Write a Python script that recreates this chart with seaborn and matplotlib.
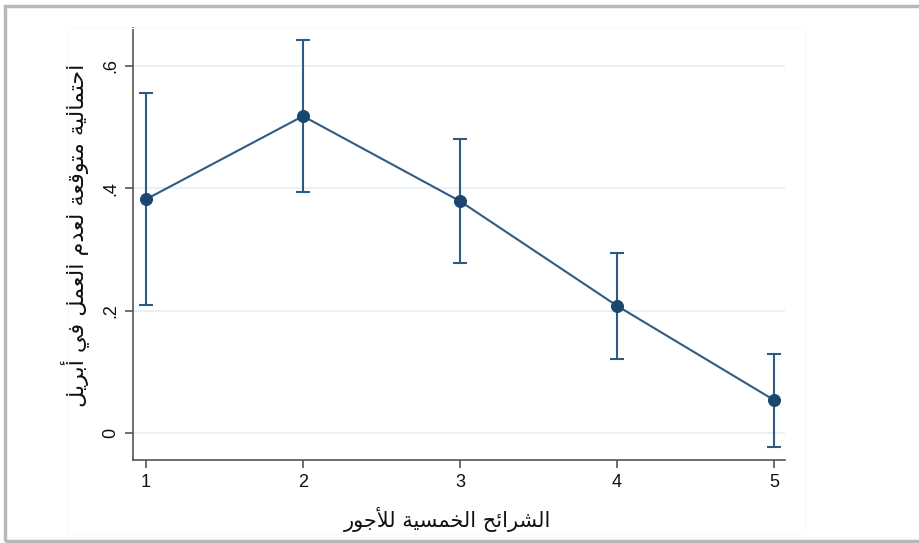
import matplotlib
matplotlib.use("Agg")
import matplotlib.pyplot as plt
import seaborn as sns
import pandas as pd
from matplotlib.patches import Rectangle

# ---- data ----
quintiles = [1, 2, 3, 4, 5]
estimate = [0.382, 0.518, 0.379, 0.208, 0.054]
ci_low = [0.209, 0.394, 0.278, 0.121, -0.023]
ci_high = [0.555, 0.643, 0.481, 0.294, 0.129]
y_ticks = [0, 0.2, 0.4, 0.6]
y_tick_labels = ["0", ".2", ".4", ".6"]
x_label = "الشرائح الخمسية للأجور"
y_label = "احتمالية متوقعة لعدم العمل في أبريل"

# ---- minimal Arabic shaping ----
FORMS = {  # isolated, final, initial, medial
    'ا': (0xFE8D, 0xFE8E, None, None),
    'أ': (0xFE83, 0xFE84, None, None),
    'ب': (0xFE8F, 0xFE90, 0xFE91, 0xFE92),
    'ة': (0xFE93, 0xFE94, None, None),
    'ت': (0xFE95, 0xFE96, 0xFE97, 0xFE98),
    'ج': (0xFE9D, 0xFE9E, 0xFE9F, 0xFEA0),
    'ح': (0xFEA1, 0xFEA2, 0xFEA3, 0xFEA4),
    'خ': (0xFEA5, 0xFEA6, 0xFEA7, 0xFEA8),
    'د': (0xFEA9, 0xFEAA, None, None),
    'ر': (0xFEAD, 0xFEAE, None, None),
    'س': (0xFEB1, 0xFEB2, 0xFEB3, 0xFEB4),
    'ش': (0xFEB5, 0xFEB6, 0xFEB7, 0xFEB8),
    'ع': (0xFEC9, 0xFECA, 0xFECB, 0xFECC),
    'ف': (0xFED1, 0xFED2, 0xFED3, 0xFED4),
    'ق': (0xFED5, 0xFED6, 0xFED7, 0xFED8),
    'ل': (0xFEDD, 0xFEDE, 0xFEDF, 0xFEE0),
    'م': (0xFEE1, 0xFEE2, 0xFEE3, 0xFEE4),
    'و': (0xFEED, 0xFEEE, None, None),
    'ي': (0xFEF1, 0xFEF2, 0xFEF3, 0xFEF4),
    'ئ': (0xFE89, 0xFE8A, 0xFE8B, 0xFE8C),
}
LAMALEF = {'ا': (0xFEFB, 0xFEFC), 'أ': (0xFEF7, 0xFEF8)}


def dual(c):
    return c in FORMS and FORMS[c][2] is not None


def shape(text):
    out = []
    i = 0
    n = len(text)
    while i < n:
        c = text[i]
        if c not in FORMS:
            out.append(c)
            i += 1
            continue
        prev = text[i - 1] if i > 0 else ''
        cp = dual(prev)
        if c == 'ل' and i + 1 < n and text[i + 1] in LAMALEF:
            iso, fin = LAMALEF[text[i + 1]]
            out.append(chr(fin if cp else iso))
            i += 2
            continue
        nxt = text[i + 1] if i + 1 < n else ''
        cn = dual(c) and nxt in FORMS
        iso, fin, ini, med = FORMS[c]
        if cp and cn:
            g = med
        elif cn:
            g = ini
        elif cp:
            g = fin
        else:
            g = iso
        out.append(chr(g))
        i += 1
    return ''.join(out)[::-1]


# ---- plot ----
sns.set_theme(style="white")
plt.rcParams['font.family'] = ['Liberation Sans', 'DejaVu Sans']

df = pd.DataFrame({"q": quintiles, "est": estimate, "lo": ci_low, "hi": ci_high})

fig = plt.figure(figsize=(9.2, 5.43), dpi=100)
ax = fig.add_axes([133 / 920, 1 - 460 / 543, (785 - 133) / 920, (460 - 28) / 543])

navy = "#1a476f"
line_c = "#2e5b84"

for yt in y_ticks:
    ax.axhline(yt, color="#e6eff3", lw=1.2, zorder=0)

ax.vlines(df["q"], df["lo"], df["hi"], color=line_c, lw=1.5, zorder=2)
ax.plot(df["q"], df["lo"], ls="none", marker="_", ms=10, mew=1.5, color=line_c, zorder=2)
ax.plot(df["q"], df["hi"], ls="none", marker="_", ms=10, mew=1.5, color=line_c, zorder=2)
sns.lineplot(data=df, x="q", y="est", ax=ax, color=line_c, lw=1.5, zorder=3)
sns.scatterplot(data=df, x="q", y="est", ax=ax, color=navy, s=75, edgecolor=navy, zorder=4)

ax.set_xlim(1 - 13 / 157, 5 + 11 / 157)
ax.set_ylim(-0.044, 0.662)
ax.set_xticks(quintiles)
ax.set_xticklabels([str(q) for q in quintiles], fontsize=13)
ax.set_yticks(y_ticks)
ax.set_yticklabels(y_tick_labels, fontsize=13, rotation=90, va="center")

for s in ["top", "right"]:
    ax.spines[s].set_visible(False)
for s in ["left", "bottom"]:
    ax.spines[s].set_color("#555555")
    ax.spines[s].set_linewidth(1.2)
ax.tick_params(axis="both", which="major", length=6, width=1.2, color="#555555",
               direction="out", bottom=True, left=True, pad=4, labelcolor="#111111")

ax.set_xlabel(shape(x_label), fontsize=15, family=['DejaVu Sans'], color="#111111")
ax.set_ylabel(shape(y_label), fontsize=16, family=['DejaVu Sans'], color="#111111")
ax.xaxis.set_label_coords(0.482, -0.109)
ax.yaxis.set_label_coords(-0.068, 0.52)

# outer frame and faint plot region
fig.patches.append(Rectangle((5 / 920, 1 - 541 / 543), 930 / 920, 535 / 543,
                             transform=fig.transFigure, fill=False,
                             edgecolor="#b8b8b8", lw=2.5, zorder=0))
fig.patches.append(Rectangle((68 / 920, 1 - 534 / 543), (805 - 68) / 920, (534 - 28) / 543,
                             transform=fig.transFigure, fill=False,
                             edgecolor="#f8f9fa", lw=0.8, zorder=0))

fig.savefig("out.png", dpi=100)
